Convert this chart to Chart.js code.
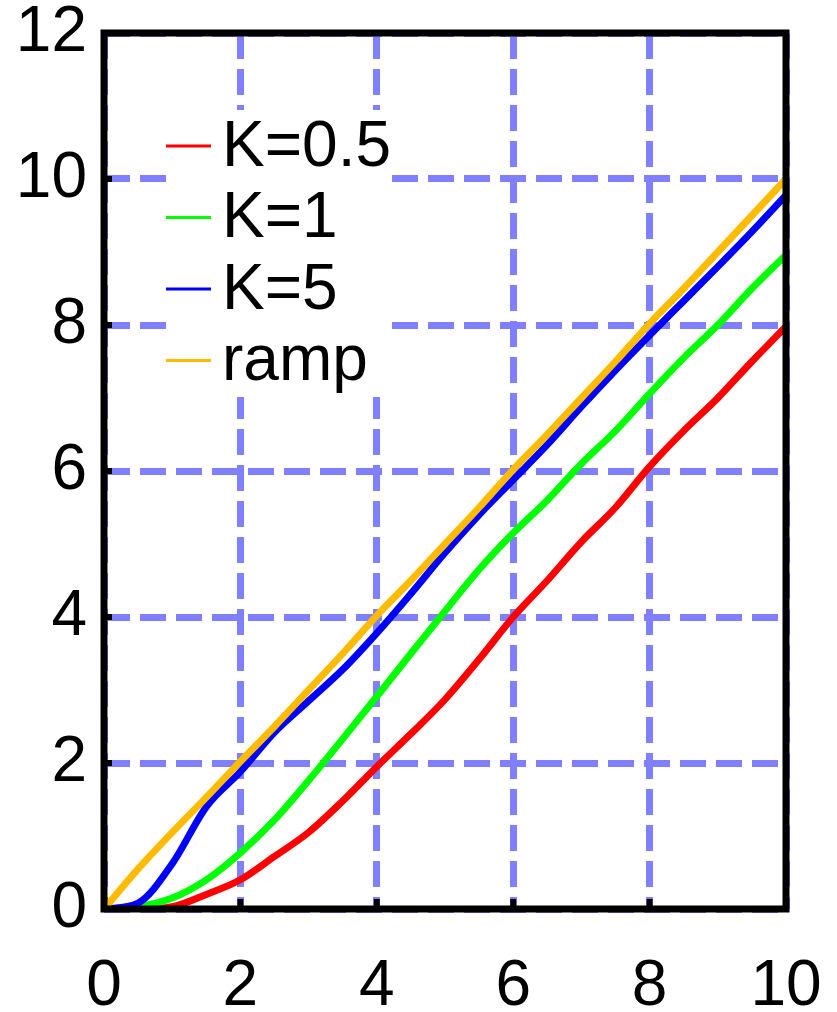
<!DOCTYPE html>
<html>
<head>
<meta charset="utf-8">
<script src="https://cdn.jsdelivr.net/npm/chart.js@4"></script>
<style>
html,body{margin:0;padding:0;background:#fff}
canvas{display:block}
</style>
</head>
<body>
<canvas id="chart" width="837" height="1012"></canvas>
<script>

// DATA

const xValues=[0,0.5,1,1.5,2,2.5,3,3.5,4,4.5,5,5.5,6,6.5,7,7.5,8,8.5,9,9.5,10]

const k05=[0,0,0.03,0.2,0.4,0.72,1.05,1.48,1.95,2.4,2.87,3.42,4.0,4.5,5.03,5.5,6.06,6.55,7.0,7.5,7.98]
const k1=[0,0.03,0.15,0.4,0.77,1.22,1.76,2.33,2.91,3.5,4.08,4.65,5.15,5.6,6.1,6.55,7.06,7.55,8.0,8.5,8.96]
const k5=[0,0.08,0.62,1.4,1.88,2.42,2.85,3.28,3.78,4.32,4.88,5.4,5.88,6.36,6.88,7.38,7.86,8.33,8.8,9.28,9.78]
const ramp=[0,0.55,1.05,1.53,2.02,2.5,3.0,3.5,4.02,4.5,5.0,5.5,6.02,6.5,7.0,7.5,8.02,8.5,9.0,9.5,10]

const seriesNames=["K=0.5","K=1","K=5","ramp"]
const seriesColors=["#ff0000","#00ff00","#0000ff","#ffbb00"]

const xTicks=[0,2,4,6,8,10]
const yTicks=[0,2,4,6,8,10,12]

const FONT="'Liberation Sans', Arial, sans-serif"


// PLUGINS

const insideLegend={
id:"insideLegend",
beforeDatasetsDraw(chart){
const ctx=chart.ctx
const a=chart.chartArea
const left=a.left+62
const top=a.top+77
ctx.save()
ctx.fillStyle="#fff"
ctx.fillRect(left,top,224,287)
chart.data.datasets.forEach((ds,i)=>{
const y=a.top+113+i*71.5
ctx.strokeStyle=ds.borderColor
ctx.lineWidth=3
ctx.beginPath()
ctx.moveTo(left,y)
ctx.lineTo(left+45,y)
ctx.stroke()
ctx.fillStyle="#000"
ctx.font="64px "+FONT
ctx.textBaseline="middle"
ctx.textAlign="left"
ctx.fillText(ds.label,left+56,y+2)
})
ctx.restore()
}
}

const frame={
id:"frame",
afterDatasetsDraw(chart){
const ctx=chart.ctx
const a=chart.chartArea
ctx.save()
ctx.strokeStyle="#000"
ctx.lineWidth=7
ctx.strokeRect(a.left,a.top,a.right-a.left,a.bottom-a.top)
ctx.lineWidth=6
xTicks.forEach(v=>{
const x=chart.scales.x.getPixelForValue(v)
ctx.beginPath()
ctx.moveTo(x,a.bottom)
ctx.lineTo(x,a.bottom-10)
ctx.stroke()
})
yTicks.forEach(v=>{
const y=chart.scales.y.getPixelForValue(v)
ctx.beginPath()
ctx.moveTo(a.left,y)
ctx.lineTo(a.left+8,y)
ctx.stroke()
})
ctx.restore()
}
}


// CHART

const series=[k05,k1,k5,ramp]

const chart=new Chart(document.getElementById("chart"),{
type:"line",
data:{
datasets:series.map((s,i)=>({
label:seriesNames[i],
data:xValues.map((x,j)=>({x:x,y:s[j]})),
borderColor:seriesColors[i],
borderWidth:7,
pointRadius:0,
cubicInterpolationMode:"monotone",
order:3-i
}))
},
options:{
responsive:false,
animation:false,
layout:{padding:{top:33,right:51,left:0,bottom:0}},
plugins:{legend:{display:false},tooltip:{enabled:false}},
scales:{
x:{
type:"linear",
min:0,max:10,
afterBuildTicks:s=>{s.ticks=xTicks.map(v=>({value:v}))},
afterFit:s=>{s.height=103;s.paddingLeft=0;s.paddingRight=0},
grid:{color:"#8080ff",lineWidth:7,drawTicks:false},
border:{display:false,dash:[26,10]},
ticks:{color:"#000",font:{size:64,family:FONT},padding:40,maxRotation:0}
},
y:{
min:0,max:12,
afterBuildTicks:s=>{s.ticks=yTicks.map(v=>({value:v}))},
afterFit:s=>{s.width=104;s.paddingTop=0;s.paddingBottom=0},
grid:{color:"#8080ff",lineWidth:7,drawTicks:false},
border:{display:false,dash:[26,10]},
ticks:{color:"#000",font:{size:64,family:FONT},padding:17}
}
}
},
plugins:[insideLegend,frame]
})

</script>
</body>
</html>
